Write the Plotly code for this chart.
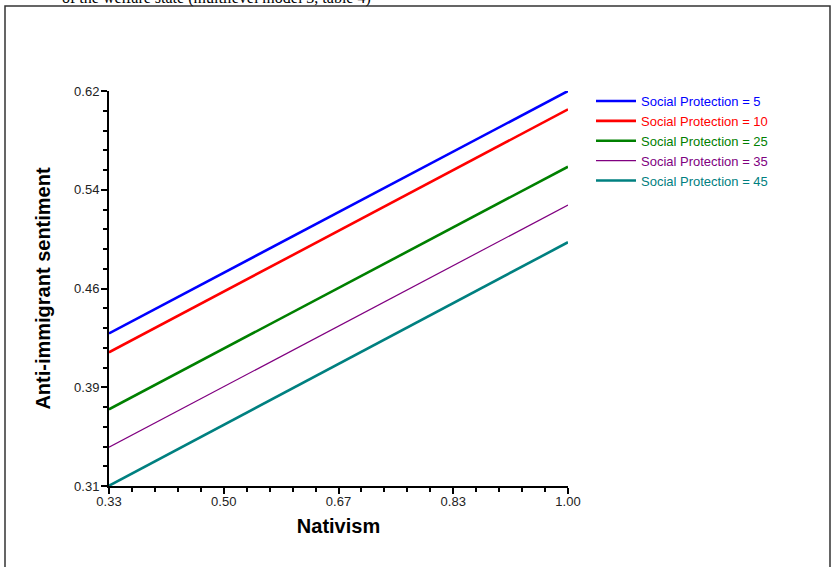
import plotly.graph_objects as go

# Data
nativism = [1/3, 1.0]
series_names = ["Social Protection = 5", "Social Protection = 10", "Social Protection = 25",
                "Social Protection = 35", "Social Protection = 45"]
sp5 = [0.4298, 0.6200]
sp10 = [0.4149, 0.6056]
sp25 = [0.3702, 0.5606]
sp35 = [0.3404, 0.5305]
sp45 = [0.3102, 0.5013]
series_values = [sp5, sp10, sp25, sp35, sp45]
colors = ["#0000FF", "#FF0000", "#008000", "#800080", "#008080"]
widths = [2.6, 2.6, 2.6, 1.2, 2.6]

x_tickvals = [1/3, 0.5, 2/3, 5/6, 1.0]
x_ticktext = ["0.33", "0.50", "0.67", "0.83", "1.00"]
y_tickvals = [0.31, 0.3875, 0.465, 0.5425, 0.62]
y_ticktext = ["0.31", "0.39", "0.46", "0.54", "0.62"]

fig = go.Figure()
for name, vals, c, w in zip(series_names, series_values, colors, widths):
    fig.add_trace(go.Scatter(
        x=nativism, y=vals, mode="lines",
        line=dict(color=c, width=w),
        name=f"<span style='color:{c}'>{name}</span>",
        cliponaxis=False,
    ))

L, R, T, B = 109, 263, 91, 81
W, H = 831, 567
pw, ph = W - L - R, H - T - B

def px_x(px):
    return (px - L) / pw

def px_y(py):
    return (H - B - py) / ph

axis_common = dict(
    showgrid=False, zeroline=False, showline=True, linecolor="black", linewidth=2,
    ticks="outside", ticklen=6, tickwidth=1.5, tickcolor="black",
    tickfont=dict(family="Arial, Liberation Sans", size=13, color="#222"),
    title_font=dict(family="Arial, Liberation Sans", size=20, color="black"),
)

fig.update_layout(
    width=W, height=H,
    margin=dict(l=L, r=R, t=T, b=B),
    paper_bgcolor="white", plot_bgcolor="white",
    xaxis=dict(range=[1/3, 1.0], tickmode="array", tickvals=x_tickvals, ticktext=x_ticktext,
               minor=dict(ticks="outside", ticklen=4, tickwidth=1.5, tickcolor="black", dtick=(1/6)/5, tick0=1/3),
               ticklabelstandoff=-4,
               title=dict(text="<b>Nativism</b>", standoff=11), **axis_common),
    yaxis=dict(range=[0.31, 0.62], tickmode="array", tickvals=y_tickvals, ticktext=y_ticktext,
               minor=dict(ticks="outside", ticklen=4, tickwidth=1.5, tickcolor="black", dtick=0.0775/5, tick0=0.31),
               ticklabelstandoff=-1,
               title=dict(text="<b>Anti-immigrant sentiment</b>", standoff=18), **axis_common),
    showlegend=True,
    legend=dict(x=px_x(591), y=px_y(86), xanchor="left", yanchor="top",
                font=dict(family="Arial, Liberation Sans", size=13),
                bgcolor="rgba(0,0,0,0)", tracegroupgap=0, itemwidth=40),
    shapes=[dict(type="rect", xref="paper", yref="paper",
                 x0=px_x(5), x1=px_x(830), y0=px_y(580), y1=px_y(6),
                 line=dict(color="#333", width=1.5), fillcolor="rgba(0,0,0,0)", layer="below")],
    annotations=[dict(xref="paper", yref="paper", x=px_x(373), y=px_y(-2),
                      xanchor="right", yanchor="middle", showarrow=False,
                      text="of the welfare state (multilevel model 3, table 4)",
                      font=dict(family="Liberation Serif, Times New Roman", size=16, color="black"))],
)

fig.write_html("out.html", config={"displayModeBar": False},
               post_script="document.body.style.margin='0';")
